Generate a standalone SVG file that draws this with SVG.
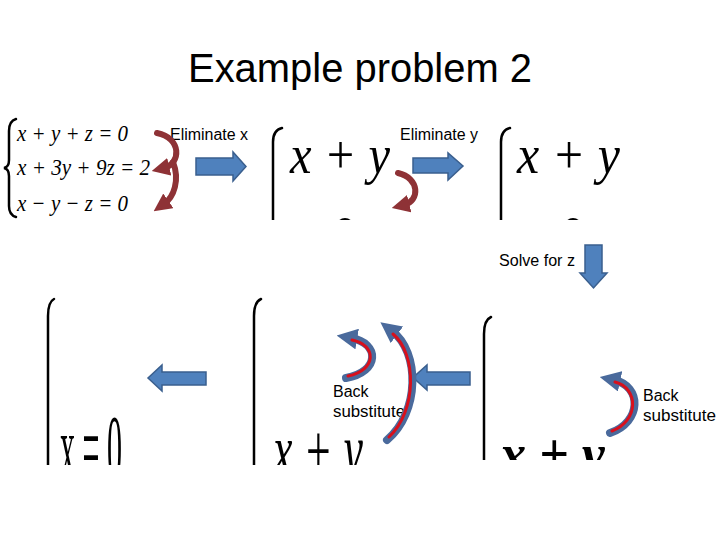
<svg xmlns="http://www.w3.org/2000/svg" width="720" height="540" viewBox="0 0 720 540">
<style>
.lbl{font-family:"Liberation Sans","DejaVu Sans",sans-serif;font-size:16px;fill:#000}
.math{font-family:"Liberation Serif","DejaVu Serif",serif;font-style:italic;fill:#000}
.brace{fill:none;stroke:#000;stroke-width:2.5;stroke-linecap:round}
.block{fill:#4F81BD;stroke:#3A5F8E;stroke-width:1.5}
.red{fill:none;stroke:#8E3236;stroke-width:6;stroke-linecap:round}
.bout{fill:none;stroke:#4A6A9C;stroke-width:8;stroke-linecap:round}
.bin{fill:none;stroke:#D8101C;stroke-width:3;stroke-linecap:round}
</style>
<defs>
<marker id="rh" viewBox="0 0 10 10" refX="3" refY="5" markerWidth="3" markerHeight="3" orient="auto" markerUnits="strokeWidth">
<path d="M0,0 L10,5 L0,10 z" fill="#8E3236"/>
</marker>
<marker id="bh" viewBox="0 0 10 10" refX="3" refY="5" markerWidth="2.6" markerHeight="2.6" orient="auto" markerUnits="strokeWidth">
<path d="M0,0 L10,5 L0,10 z" fill="#4A6A9C"/>
</marker>
<clipPath id="c1"><rect x="260" y="110" width="160" height="110"/></clipPath>
<clipPath id="c2"><rect x="490" y="110" width="160" height="110"/></clipPath>
<clipPath id="c3"><rect x="30" y="290" width="120" height="175"/></clipPath>
<clipPath id="c4"><rect x="240" y="290" width="150" height="175"/></clipPath>
<clipPath id="c5"><rect x="470" y="300" width="150" height="160"/></clipPath>
</defs>

<text x="360" y="82" text-anchor="middle" font-family="Liberation Sans, sans-serif" font-size="40" textLength="344" lengthAdjust="spacingAndGlyphs">Example problem 2</text>

<g id="system1">
<path class="brace" d="M16,119 Q9,121 9,131 L9,160 Q9,167 4,168 Q9,169 9,176 L9,206 Q9,215 16,217"/>
<text class="math" x="17" y="141" font-size="23" textLength="111" lengthAdjust="spacingAndGlyphs">x + y + z = 0</text>
<text class="math" x="17" y="175" font-size="23" textLength="133" lengthAdjust="spacingAndGlyphs">x + 3y + 9z = 2</text>
<text class="math" x="17" y="211" font-size="23" textLength="111" lengthAdjust="spacingAndGlyphs">x − y − z = 0</text>
</g>

<g id="system2" clip-path="url(#c1)">
<path class="brace" d="M282,128 Q273,130 273,142 L273,230"/>
<text class="math" x="290" y="173" font-size="54" textLength="100" lengthAdjust="spacingAndGlyphs">x + y</text>
<ellipse cx="345" cy="225" rx="8" ry="7" fill="#000"/>
</g>

<g id="system3" clip-path="url(#c2)">
<path class="brace" d="M510,128 Q501,130 501,142 L501,230"/>
<text class="math" x="517" y="173" font-size="54" textLength="103" lengthAdjust="spacingAndGlyphs">x + y</text>
<ellipse cx="573" cy="225" rx="8" ry="7" fill="#000"/>
</g>

<g id="system4" clip-path="url(#c3)">
<path class="brace" d="M54,299 Q48,302 48,316 L48,470"/>
<text class="math" x="0" y="0" font-size="42" transform="translate(60,479) scale(1,2.2)" textLength="62" lengthAdjust="spacingAndGlyphs" style="font-style:normal">x = 0</text>
</g>

<g id="system5" clip-path="url(#c4)">
<path class="brace" d="M261,299 Q254,302 254,316 L254,470"/>
<text class="math" x="0" y="0" font-size="56" transform="translate(273,476) scale(1,1.35)" textLength="90" lengthAdjust="spacingAndGlyphs">x + y</text>
</g>

<g id="system6" clip-path="url(#c5)">
<path class="brace" d="M491,317 Q484,320 484,334 L484,470"/>
<text class="math" x="500" y="473" font-size="56" font-weight="bold" textLength="105" lengthAdjust="spacingAndGlyphs">x + y</text>
</g>

<g id="labels">
<text class="lbl" x="170" y="140" textLength="78" lengthAdjust="spacingAndGlyphs">Eliminate x</text>
<text class="lbl" x="400" y="140" textLength="78" lengthAdjust="spacingAndGlyphs">Eliminate y</text>
<text class="lbl" x="499" y="266" textLength="76" lengthAdjust="spacingAndGlyphs">Solve for z</text>
<text class="lbl" x="333" y="397">Back</text>
<text class="lbl" x="333" y="417" textLength="72" lengthAdjust="spacingAndGlyphs">substitute</text>
<text class="lbl" x="643" y="401">Back</text>
<text class="lbl" x="643" y="421" textLength="73" lengthAdjust="spacingAndGlyphs">substitute</text>
</g>

<g id="connectors">
<path class="block" d="M196,158 L233,158 L233,152 L246,166.5 L233,181 L233,175 L196,175 z"/>
<path class="block" d="M413,158 L448,158 L448,153 L463,166 L448,180 L448,173 L413,173 z"/>
<path class="block" d="M585,245 L602,245 L602,273 L607,273 L593.5,288 L580,273 L585,273 z"/>
<path class="block" d="M470,372 L427,372 L427,365 L413,377.5 L427,390 L427,385 L470,385 z"/>
<path class="block" d="M206,372 L162,372 L162,365 L148,378 L162,391 L162,385 L206,385 z"/>

<path class="red" d="M157,133 C182,138 181,164 164,168" marker-end="url(#rh)"/>
<path class="red" d="M173,162 C180,180 174,197 164,204" marker-end="url(#rh)"/>
<path class="red" d="M398,173 C420,178 420,201 404,205" marker-end="url(#rh)"/>

<path class="bout" d="M346,378 C380,372 380,343 351,338" marker-end="url(#bh)"/>
<path class="bin" d="M348,376 C377,370 377,345 352,340"/>
<path class="bout" d="M387,440 C420,412 420,352 392,331" marker-end="url(#bh)"/>
<path class="bin" d="M389,437 C417,411 417,354 393,334"/>
<path class="bout" d="M610,433 C642,422 642,386 614,380" marker-end="url(#bh)"/>
<path class="bin" d="M612,431 C639,421 639,388 615,382"/>
</g>
</svg>
